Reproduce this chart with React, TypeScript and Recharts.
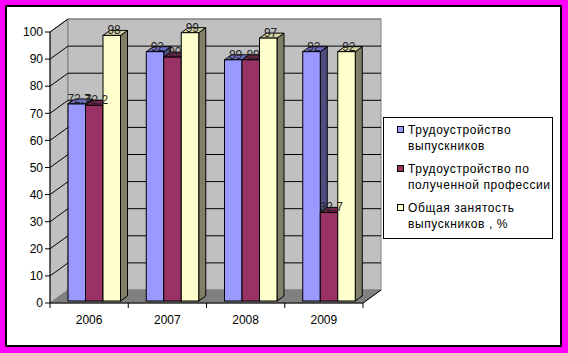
import React from 'react';
import { BarChart, Bar, XAxis, YAxis, CartesianGrid, LabelList } from 'recharts';

const categories = ['2006', '2007', '2008', '2009'];
const employedGraduates = [72.7, 92, 89, 92];
const employedInProfession = [72.2, 90, 89, 32.7];
const totalEmployment = [98, 99, 97, 92];
const yTicks = [0, 10, 20, 30, 40, 50, 60, 70, 80, 90, 100];
const seriesNames = [
  'Трудоустройство выпускников',
  'Трудоустройство по полученной профессии',
  'Общая занятость выпускников , %',
];
const seriesKeys = ['a', 'b', 'c'];

const palette = [
  { front: '#9999FF', top: '#6F6FC4', side: '#4D4D80' },
  { front: '#993366', top: '#73264D', side: '#4D1A33' },
  { front: '#FFFFCC', top: '#D4D4A4', side: '#808066' },
];

const data = categories.map((cat, i) => ({
  cat,
  a: employedGraduates[i],
  b: employedInProfession[i],
  c: totalEmployment[i],
}));

const FONT = '"Liberation Sans", Arial, sans-serif';
const WX = 18, WY = -13; // wall depth
const SX = 5, SY = -2; // bar shift into depth
const BX = 7, BY = -5; // bar depth

const gridLine = (p: any) => {
  const left = typeof p.x === 'number' ? p.x : 50;
  const width = typeof p.width === 'number' ? p.width : 313;
  const top = typeof p.y === 'number' ? p.y : 32;
  const height = typeof p.height === 'number' ? p.height : 271;
  const bottom = top + height;
  const right = left + width;
  const n = categories.length;
  const y1 = p.y1;
  return (
    <g key={`gl-${p.index}`}>
      {p.index === 0 && (
        <g>
          <polygon
            points={`${left},${bottom} ${left},${top} ${left + WX},${top + WY} ${left + WX},${bottom + WY}`}
            fill="#C0C0C0"
            stroke="#808080"
          />
          <rect x={left + WX} y={top + WY} width={width} height={height} fill="#C0C0C0" stroke="#808080" />
          <polygon
            points={`${left},${bottom} ${right},${bottom} ${right + WX},${bottom + WY} ${left + WX},${bottom + WY}`}
            fill="#808080"
            stroke="#808080"
          />
          <line x1={right} y1={bottom} x2={right + WX} y2={bottom + WY} stroke="#000" />
          {categories.concat(['']).map((_, i) => (
            <line
              key={`bt-${i}`}
              x1={left + (i * width) / n}
              y1={bottom}
              x2={left + (i * width) / n}
              y2={bottom + 5}
              stroke="#000"
            />
          ))}
        </g>
      )}
      {Math.abs(y1 - bottom) > 0.5 && (
        <g>
          <line x1={p.x1} y1={y1} x2={p.x1 + WX} y2={y1 + WY} stroke="#000" />
          <line x1={p.x1 + WX} y1={y1 + WY} x2={p.x2 + WX} y2={y1 + WY} stroke={Math.abs(y1 - top) < 0.5 ? '#808080' : '#000'} />
        </g>
      )}
    </g>
  );
};

const makePrism = (si: number) => (p: any) => {
  const c = palette[si];
  const w = p.width, h = p.height;
  if (w == null || h == null) return <g />;
  const fx = p.x + SX, fy = p.y + SY;
  return (
    <g>
      <polygon
        points={`${fx + w},${fy} ${fx + w + BX},${fy + BY} ${fx + w + BX},${fy + h + BY} ${fx + w},${fy + h}`}
        fill={c.side}
        stroke="#000"
        strokeWidth={1}
      />
      <polygon
        points={`${fx},${fy} ${fx + BX},${fy + BY} ${fx + w + BX},${fy + BY} ${fx + w},${fy}`}
        fill={c.top}
        stroke="#000"
        strokeWidth={1}
      />
      <rect x={fx} y={fy} width={w} height={h} fill={c.front} stroke="#000" strokeWidth={1} />
    </g>
  );
};

const renderLabel = (p: any) => {
  const vb = p.viewBox || {};
  const x = typeof p.x === 'number' ? p.x : vb.x;
  const y = typeof p.y === 'number' ? p.y : vb.y;
  const w = typeof p.width === 'number' ? p.width : vb.width;
  if (x == null || y == null) return null;
  return (
    <text
      x={x + SX + w / 2 + BX / 3}
      y={y + SY - 1}
      textAnchor="middle"
      fontSize={12}
      fontFamily={FONT}
      fill="#222"
    >
      {p.value}
    </text>
  );
};

const Legend3D = () => (
  <div
    style={{
      position: 'absolute',
      left: 383,
      top: 117,
      width: 168,
      height: 116,
      border: '1px solid #000',
      background: '#fff',
      fontFamily: FONT,
      fontSize: 12,
      letterSpacing: 0.6,
      color: '#000',
      paddingTop: 4,
      boxSizing: 'content-box',
    }}
  >
    {seriesNames.map((name, i) => (
      <div key={name} style={{ position: 'relative', marginBottom: 7, height: 32 }}>
        <div
          style={{
            position: 'absolute',
            left: 13,
            top: 4,
            width: 5,
            height: 5,
            border: '1px solid #000',
            background: palette[i].front,
          }}
        />
        <div style={{ position: 'absolute', left: 24, top: 0, width: 144, lineHeight: '16px' }}>{name}</div>
      </div>
    ))}
  </div>
);

export default function App() {
  return (
    <div style={{ position: 'absolute', left: 0, top: 0, width: 568, height: 353, background: '#FF00FF', overflow: 'hidden' }}>
      <div
        style={{
          position: 'absolute',
          left: 5,
          top: 5,
          width: 553,
          height: 338,
          border: '2px solid #000',
          background: '#fff',
        }}
      />
      <div style={{ position: 'absolute', left: 0, top: 0 }}>
        <BarChart
          width={568}
          height={353}
          data={data}
          margin={{ top: 32, right: 205, bottom: 20, left: 8 }}
          barSize={17.5}
          barGap={0}
          style={{ fontFamily: FONT }}
        >
          <CartesianGrid vertical={false} horizontal={gridLine} stroke="#000" />
          <XAxis
            dataKey="cat"
            tickLine={false}
            axisLine={{ stroke: '#000' }}
            tick={{ fontSize: 12, fill: '#000', fontFamily: FONT }}
            tickSize={6}
            tickMargin={6}
            height={30}
          />
          <YAxis
            domain={[0, 100]}
            ticks={yTicks}
            interval={0}
            tick={{ fontSize: 12, fill: '#000', fontFamily: FONT }}
            tickLine={{ stroke: '#000' }}
            axisLine={{ stroke: '#000' }}
            tickSize={5}
            tickMargin={2}
            width={42}
          />
          {seriesKeys.map((k, i) => (
            <Bar key={k} dataKey={k} name={seriesNames[i]} fill={palette[i].front} shape={makePrism(i)} isAnimationActive={false}>
              <LabelList dataKey={k} content={renderLabel} />
            </Bar>
          ))}
        </BarChart>
      </div>
      <Legend3D />
    </div>
  );
}
